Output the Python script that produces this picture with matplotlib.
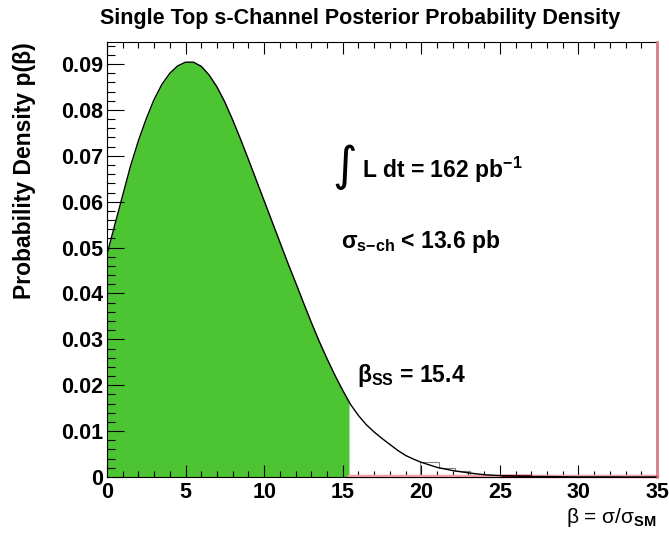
import matplotlib
matplotlib.use("Agg")
import matplotlib.pyplot as plt
import numpy as np
from matplotlib.ticker import MultipleLocator, FuncFormatter

plt.rcParams["font.family"] = ["Liberation Sans", "DejaVu Sans"]
plt.rcParams["mathtext.fontset"] = "custom"
plt.rcParams["mathtext.rm"] = "Liberation Sans"
plt.rcParams["mathtext.bf"] = "Liberation Sans:bold"
plt.rcParams["mathtext.it"] = "Liberation Sans:italic"

# posterior density
beta = [0, 0.5, 1, 1.5, 2, 2.5, 3, 3.5, 4, 4.5, 5, 5.5, 6, 6.5, 7, 7.5, 8, 8.5,
        9, 9.5, 10, 10.5, 11, 11.5, 12, 12.5, 13, 13.5, 14, 14.5, 15, 15.5, 16,
        16.5, 17, 17.5, 18, 18.5, 19, 19.5, 20, 21, 22, 23, 24, 25, 26, 27, 28,
        30, 32, 35]
density = [0.0485, 0.0550, 0.0614, 0.0678, 0.0733, 0.0781, 0.0823, 0.0856,
           0.0880, 0.0896, 0.0904, 0.0904, 0.0895, 0.0876, 0.0850, 0.0817,
           0.0778, 0.0736, 0.0692, 0.0647, 0.0602, 0.0557, 0.0512, 0.0467,
           0.0424, 0.0380, 0.0337, 0.0296, 0.0258, 0.0222, 0.0189, 0.0158,
           0.0134, 0.0114, 0.0098, 0.0084, 0.0071, 0.0058, 0.0047, 0.0039,
           0.0032, 0.0021, 0.0014, 0.0009, 0.0005, 0.0003, 0.0002, 0.0001,
           0.0001, 0.0, 0.0, 0.0]
beta_limit = 15.4

# small histogram outline visible in the tail
tail_edges = [19.9, 21.1, 22.15, 23.1, 24.9]
tail_heights = [0.0033, 0.0019, 0.0013, 0.0004]

green = "#4dc432"
pink = "#f3a0a6"
red_line = "#d87c88"

fig = plt.figure(figsize=(6.69, 5.33), dpi=100, facecolor="white")
ax = fig.add_axes([107 / 669, 1 - 477 / 533, 550 / 669, 435 / 533])

b = np.array(beta)
d = np.array(density)
cut_val = np.interp(beta_limit, b, d)
inside = b < beta_limit
fx = np.append(b[inside], beta_limit)
fy = np.append(d[inside], cut_val)
ax.fill_between(fx, 0, fy, color=green, lw=0, zorder=1)

ax.stairs(tail_heights, tail_edges, baseline=0, color="#808080", lw=0.8, zorder=2)

# region above the limit outlined in red
ax.plot([beta_limit, 35], [0.00015, 0.00015], color=pink, lw=2.5, zorder=2, clip_on=False)
ax.plot([35, 35], [0, 0.0948], color=red_line, lw=2, zorder=3, clip_on=False)
ax.plot([25.2, 26.9], [0.00015, 0.00015], color="#a01525", lw=2.5, zorder=3)

ax.plot(b, d, color="black", lw=1.0, zorder=4)
ax.plot([27, 32.6], [0.0001, 0.0001], color="#707070", lw=1.2, zorder=3)

ax.set_xlim(0, 35)
ax.set_ylim(0, 0.0948)

ax.xaxis.set_major_locator(MultipleLocator(5))
ax.xaxis.set_minor_locator(MultipleLocator(1))
ax.yaxis.set_major_locator(MultipleLocator(0.01))
ax.yaxis.set_minor_locator(MultipleLocator(0.002))
ax.yaxis.set_major_formatter(FuncFormatter(lambda v, p: "0" if abs(v) < 1e-9 else f"{v:.2f}"))
ax.xaxis.set_major_formatter(FuncFormatter(lambda v, p: f"{v:g}"))

ax.tick_params(axis="x", which="major", direction="in", length=8.5, width=0.8,
               top=True, bottom=True, labelsize=15.5, pad=3.5)
ax.tick_params(axis="x", which="minor", direction="in", length=4.5, width=0.8,
               top=True, bottom=True)
ax.tick_params(axis="y", which="major", direction="in", length=12.5, width=0.8,
               left=True, right=False, labelsize=15.5, pad=2.5)
ax.tick_params(axis="y", which="minor", direction="in", length=6, width=0.8,
               left=True, right=False)
for lab in ax.get_xticklabels() + ax.get_yticklabels():
    lab.set_fontweight("bold")

for s in ["left", "bottom", "top"]:
    ax.spines[s].set_linewidth(0.8)
ax.spines["right"].set_visible(False)

fig.text(0.538, 0.966, "Single Top s-Channel Posterior Probability Density",
         ha="center", va="center", fontsize=15.5, fontweight="bold")
fig.text(0.037, 0.921, "Probability Density p(β)", rotation=90, ha="center",
         va="top", fontsize=16.5, fontweight="bold")
fig.text(0.982, 0.008, r"β = σ/σ$_{\mathbf{SM}}$", ha="right", va="bottom",
         fontsize=15)

# annotations
ax.text(15.1, 0.0675, "∫", family="DejaVu Sans", fontsize=34, ha="center",
        va="center")
ax.text(16.2, 0.0651, r"L dt = 162 pb$^{\mathbf{-1}}$", fontsize=16.5,
        fontweight="bold", ha="left", va="baseline")
ax.text(14.9, 0.0499, r"σ$_{\mathbf{s{-}ch}}$ < 13.6 pb", fontsize=16.5,
        fontweight="bold", ha="left", va="baseline")
ax.text(15.9, 0.0207, r"β$_{\mathbf{SS}}$ = 15.4", fontsize=16.5,
        fontweight="bold", ha="left", va="baseline")

fig.savefig("out.png", dpi=100, facecolor="white")
